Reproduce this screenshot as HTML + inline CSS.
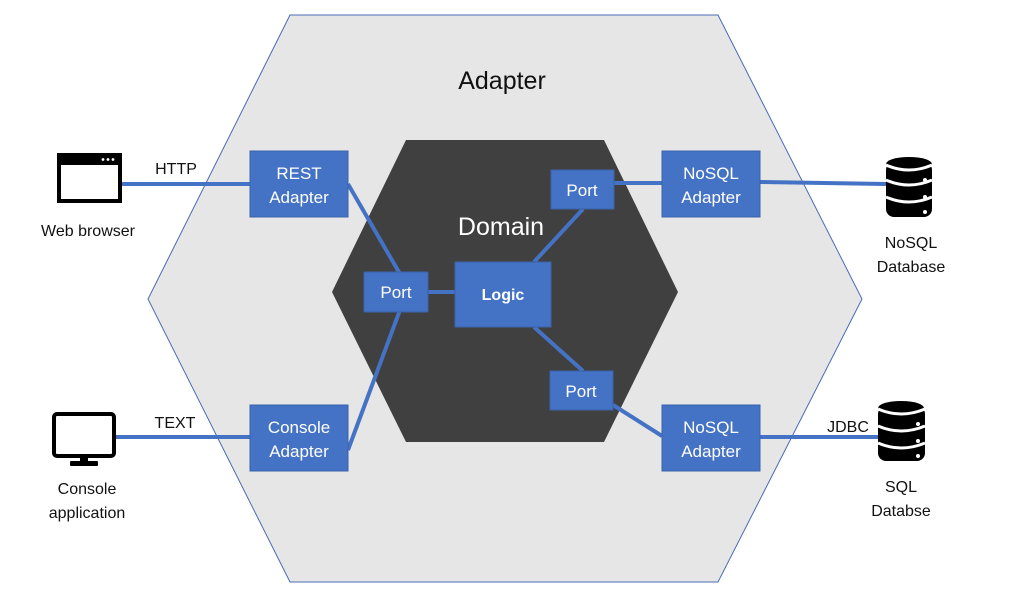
<!DOCTYPE html>
<html><head><style>
body{margin:0;background:#fff;}
svg text{font-family:"Liberation Sans",sans-serif;}
</style></head><body>
<svg width="1019" height="599" viewBox="0 0 1019 599" xmlns="http://www.w3.org/2000/svg">
<polygon points="290,15 718,15 862,299 718,582 290,582 148,299" fill="#e6e6e6" stroke="#4a6bb5" stroke-width="1"/>
<polygon points="406,140 604,140 678,292 604,442 406,442 332,292" fill="#404040"/>
<g stroke="#4472c4" stroke-width="4" fill="none">
<line x1="122" y1="184" x2="250" y2="184"/>
<line x1="116" y1="437" x2="250" y2="437"/>
<line x1="348" y1="184" x2="400" y2="274"/>
<line x1="348" y1="450" x2="400" y2="310"/>
<line x1="428" y1="292" x2="455" y2="292"/>
<line x1="534" y1="262" x2="583" y2="209"/>
<line x1="534" y1="327" x2="583" y2="371"/>
<line x1="614" y1="183" x2="662" y2="183"/>
<line x1="613" y1="405" x2="662" y2="436"/>
<line x1="760" y1="182" x2="886" y2="184"/>
<line x1="760" y1="437" x2="878" y2="437"/>
</g>
<g fill="#4472c4" stroke="#3a63ad" stroke-width="1">
<rect x="250" y="151" width="98" height="66"/>
<rect x="250" y="405" width="98" height="66"/>
<rect x="662" y="151" width="98" height="66"/>
<rect x="662" y="405" width="98" height="66"/>
<rect x="551" y="170" width="63" height="39"/>
<rect x="550" y="371" width="63" height="39"/>
<rect x="364" y="272" width="64" height="40"/>
<rect x="455" y="262" width="96" height="65"/>
</g>
<g fill="#fff" font-size="17" text-anchor="middle">
<text x="299" y="179">REST</text><text x="299" y="203">Adapter</text>
<text x="299" y="433">Console</text><text x="299" y="457">Adapter</text>
<text x="711" y="179">NoSQL</text><text x="711" y="203">Adapter</text>
<text x="711" y="433">NoSQL</text><text x="711" y="457">Adapter</text>
<text x="582" y="196">Port</text>
<text x="581" y="397">Port</text>
<text x="396" y="298">Port</text>
<text x="503" y="300" font-weight="bold" font-size="16">Logic</text>
<text x="501" y="235" font-size="25">Domain</text>
</g>
<text x="502" y="89" font-size="25" text-anchor="middle" fill="#111">Adapter</text>
<g font-size="16" fill="#111" text-anchor="middle">
<text x="176" y="174">HTTP</text>
<text x="175" y="428">TEXT</text>
<text x="848" y="432">JDBC</text>
<text x="88" y="236">Web browser</text>
<text x="87" y="494">Console</text><text x="87" y="518">application</text>
<text x="911" y="248">NoSQL</text><text x="911" y="272">Database</text>
<text x="901" y="492">SQL</text><text x="901" y="516">Databse</text>
</g>
<rect x="59" y="155" width="61" height="46" fill="#fff" stroke="#000" stroke-width="4"/>
<rect x="59" y="155" width="61" height="10" fill="#000"/>
<circle cx="103" cy="159.5" r="1.4" fill="#fff"/><circle cx="108" cy="159.5" r="1.4" fill="#fff"/><circle cx="113" cy="159.5" r="1.4" fill="#fff"/>
<rect x="54" y="414" width="60" height="42" rx="3" fill="#fff" stroke="#000" stroke-width="4"/>
<rect x="80" y="456" width="8" height="6" fill="#000"/>
<rect x="70" y="461" width="28" height="5" rx="1" fill="#000"/>
<g>
<rect x="886" y="162" width="46" height="55" rx="8" fill="#000"/>
<ellipse cx="909" cy="164" rx="23" ry="7" fill="#000"/>
<path d="M886 180 Q909 190 932 180 M886 197 Q909 207 932 197 M886 165 Q909 175 932 165" stroke="#fff" stroke-width="3" fill="none"/>
<circle cx="925" cy="180" r="2" fill="#fff"/><circle cx="925" cy="197" r="2" fill="#fff"/><circle cx="925" cy="212" r="2" fill="#fff"/>
</g>
<g>
<rect x="878" y="406" width="47" height="55" rx="8" fill="#000"/>
<ellipse cx="901" cy="408" rx="23" ry="7" fill="#000"/>
<path d="M878 409 Q901 419 925 409 M878 426 Q901 436 925 426 M878 443 Q901 453 925 443" stroke="#fff" stroke-width="3" fill="none"/>
<circle cx="918" cy="424" r="2" fill="#fff"/><circle cx="918" cy="441" r="2" fill="#fff"/><circle cx="918" cy="456" r="2" fill="#fff"/>
</g>
</svg>
</body></html>
